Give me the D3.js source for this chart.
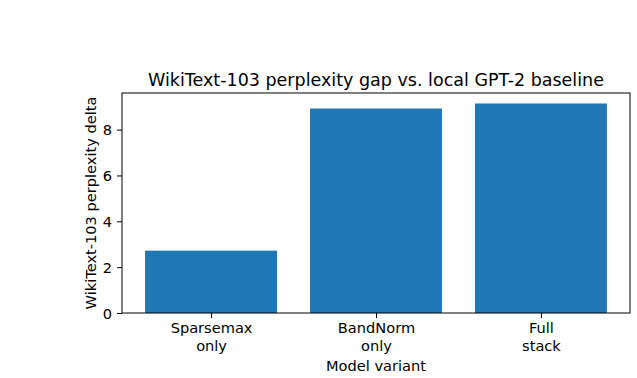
<!DOCTYPE html>
<meta charset="utf-8">
<script src="https://d3js.org/d3.v7.min.js"></script>
<style>
  body { margin: 0; background: #fff; }
  text { font-family: "DejaVu Sans", sans-serif; fill: #000; }
</style>
<div id="chart"></div>
<script>
  // data
  const variants = [["Sparsemax", "only"], ["BandNorm", "only"], ["Full", "stack"]];
  const deltas = [2.72, 8.92, 9.14];
  const yTicks = [0, 2, 4, 6, 8];

  const W = 637, H = 378;
  const margin = { top: 93, right: 7, bottom: 65, left: 122 };
  const width = W - margin.left - margin.right,
        height = H - margin.top - margin.bottom;
  const fs = "14.6px";

  const svg = d3.select("#chart").append("svg")
      .attr("width", W).attr("height", H);
  const g = svg.append("g")
      .attr("transform", "translate(" + margin.left + "," + margin.top + ")");

  // matplotlib style x: categories at 0..n-1, bar width 0.8, 5% margins
  const n = deltas.length;
  const lo = -0.4 - 0.05 * (n - 1 + 0.8), hi = n - 1 + 0.4 + 0.05 * (n - 1 + 0.8);
  const x = d3.scaleLinear().domain([lo, hi]).range([0, width]);
  const y = d3.scaleLinear().domain([0, d3.max(deltas) * 1.05]).range([height, 0]);

  g.selectAll(".bar")
    .data(deltas)
    .enter().append("rect")
      .attr("class", "bar")
      .attr("x", (d, i) => x(i - 0.4))
      .attr("width", (d, i) => x(i + 0.4) - x(i - 0.4))
      .attr("y", d => y(d))
      .attr("height", d => y(0) - y(d))
      .style("fill", "#1f77b4");

  // y axis
  const yAxis = g.append("g")
      .call(d3.axisLeft(y).tickValues(yTicks).tickSize(5).tickPadding(5).tickFormat(d3.format("d")));
  yAxis.select(".domain").remove();
  yAxis.selectAll("text").style("font-size", fs).attr("dy", "0.35em");
  yAxis.selectAll("line").attr("stroke", "#000").attr("stroke-width", 1);

  // x axis
  const xAxis = g.append("g")
      .attr("transform", "translate(0," + height + ")")
      .call(d3.axisBottom(x).tickValues(d3.range(n)).tickSize(5).tickFormat(""));
  xAxis.select(".domain").remove();
  xAxis.selectAll("line").attr("stroke", "#000");
  xAxis.selectAll(".tick").each(function (d) {
    const t = d3.select(this).append("text")
        .attr("text-anchor", "middle")
        .style("font-size", fs);
    variants[d].forEach((s, k) => {
      t.append("tspan").attr("x", 0).attr("y", 20 + k * 17.5).text(s);
    });
  });

  // frame
  g.append("rect")
    .attr("width", width).attr("height", height)
    .attr("fill", "none").attr("stroke", "#000").attr("stroke-width", 1);

  // labels
  g.append("text")
    .attr("x", width / 2).attr("y", -7)
    .attr("text-anchor", "middle")
    .style("font-size", "17.5px")
    .text("WikiText-103 perplexity gap vs. local GPT-2 baseline");

  g.append("text")
    .attr("x", width / 2).attr("y", height + 58)
    .attr("text-anchor", "middle")
    .style("font-size", fs)
    .text("Model variant");

  g.append("text")
    .attr("transform", "translate(-26," + height / 2 + ") rotate(-90)")
    .attr("text-anchor", "middle")
    .style("font-size", fs)
    .text("WikiText-103 perplexity delta");
</script>
